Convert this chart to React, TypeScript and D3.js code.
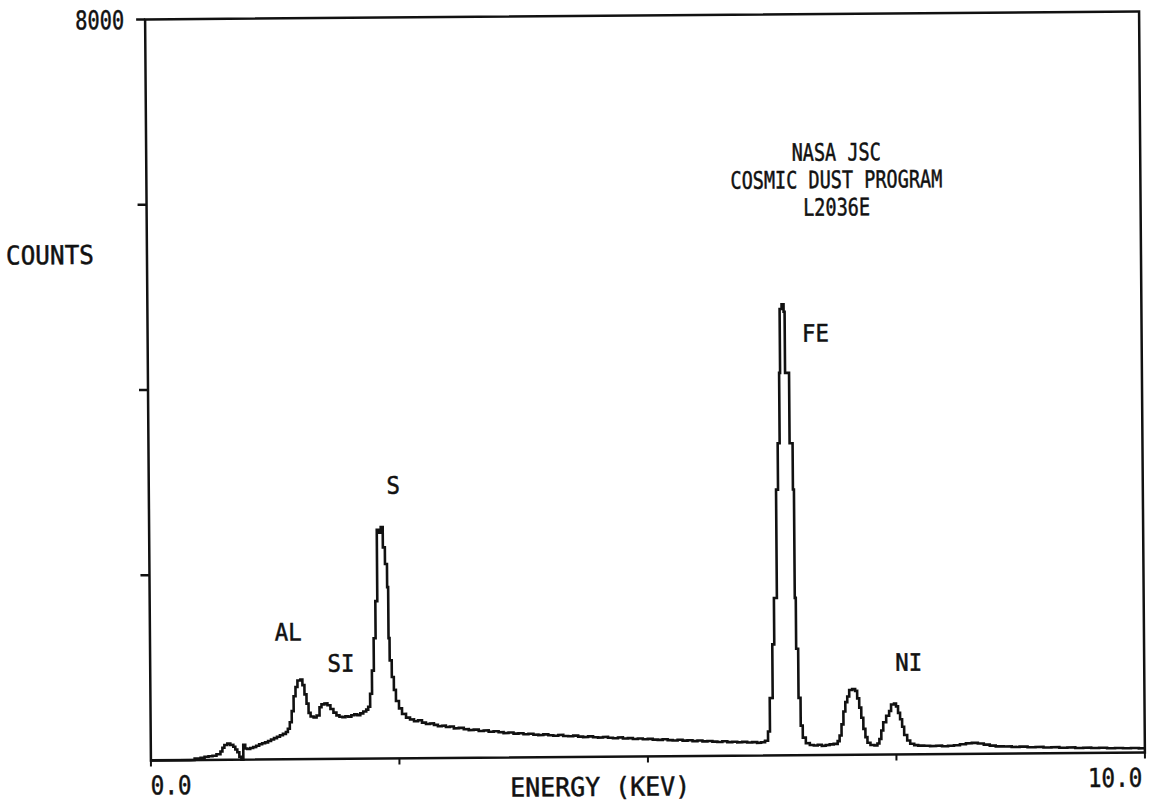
import React from "react";
import * as d3 from "d3";

// EDS spectrum: [energy keV, counts], drawn as a histogram step trace
const spectrum: [number, number][] = [
  [0, 0], [0.4, 0], [0.44, 15], [0.5, 25], [0.54, 35], [0.58, 40], [0.62, 45], [0.66, 60], [0.7, 90],
  [0.72, 130], [0.74, 160], [0.77, 175], [0.8, 160], [0.83, 140], [0.85, 110], [0.87, 80], [0.89, 30],
  [0.91, 0], [0.93, 160], [0.95, 120], [0.97, 115], [1.0, 125], [1.03, 135], [1.06, 150], [1.09, 165],
  [1.12, 175], [1.15, 185], [1.18, 200], [1.21, 215], [1.24, 230], [1.27, 245], [1.3, 260], [1.33, 275],
  [1.36, 295], [1.38, 330], [1.4, 400], [1.42, 520], [1.44, 680], [1.46, 780], [1.48, 850], [1.51, 860],
  [1.53, 800], [1.55, 700], [1.57, 600], [1.59, 500], [1.61, 460], [1.64, 450], [1.67, 470], [1.7, 560],
  [1.72, 590], [1.75, 600], [1.78, 580], [1.81, 540], [1.84, 500], [1.87, 470], [1.9, 455], [1.93, 450],
  [1.96, 460], [1.99, 455], [2.02, 470], [2.05, 480], [2.08, 470], [2.11, 490], [2.14, 510], [2.17, 530],
  [2.19, 560], [2.21, 700], [2.23, 950], [2.25, 1300], [2.27, 1700], [2.29, 2470], [2.31, 2440],
  [2.33, 2500], [2.35, 2280], [2.37, 2100], [2.39, 1850], [2.4, 1300], [2.41, 1060], [2.43, 880],
  [2.45, 740], [2.47, 620], [2.5, 540], [2.53, 480], [2.57, 440], [2.61, 420], [2.65, 400], [2.69, 410],
  [2.73, 385], [2.77, 370], [2.81, 375], [2.85, 360], [2.89, 345], [2.93, 350], [2.97, 335], [3.01, 340],
  [3.05, 320], [3.1, 325], [3.15, 310], [3.2, 300], [3.25, 305], [3.3, 290], [3.35, 295], [3.4, 280],
  [3.45, 285], [3.5, 275], [3.55, 265], [3.6, 270], [3.65, 258], [3.7, 262], [3.75, 250], [3.8, 255],
  [3.85, 245], [3.9, 240], [3.95, 248], [4.0, 238], [4.05, 232], [4.1, 240], [4.15, 228], [4.2, 225],
  [4.25, 232], [4.3, 220], [4.35, 215], [4.4, 222], [4.45, 212], [4.5, 208], [4.55, 215], [4.6, 205],
  [4.65, 200], [4.7, 208], [4.75, 196], [4.8, 200], [4.85, 190], [4.9, 195], [4.95, 186], [5.0, 190],
  [5.05, 182], [5.1, 178], [5.15, 185], [5.2, 175], [5.25, 170], [5.3, 178], [5.35, 168], [5.4, 172],
  [5.45, 162], [5.5, 168], [5.55, 158], [5.6, 162], [5.65, 155], [5.7, 150], [5.75, 158], [5.8, 148],
  [5.85, 152], [5.9, 145], [5.95, 150], [6.0, 142], [6.05, 146], [6.1, 138], [6.14, 145], [6.18, 160],
  [6.21, 260], [6.23, 620], [6.26, 1200], [6.28, 1700], [6.31, 2870], [6.33, 3370], [6.35, 4130],
  [6.36, 4820], [6.38, 4870], [6.4, 4790], [6.41, 4130], [6.45, 3370], [6.48, 2870], [6.49, 1700],
  [6.5, 1150], [6.52, 620], [6.54, 320], [6.56, 190], [6.59, 130], [6.63, 110], [6.67, 105], [6.71, 112],
  [6.75, 100], [6.79, 108], [6.83, 115], [6.87, 120], [6.91, 150], [6.93, 210], [6.95, 330], [6.97, 470],
  [6.99, 570], [7.01, 630], [7.03, 700], [7.06, 710], [7.09, 690], [7.11, 610], [7.13, 510], [7.15, 400],
  [7.17, 280], [7.19, 190], [7.21, 130], [7.24, 105], [7.28, 100], [7.31, 120], [7.33, 170], [7.35, 260],
  [7.37, 350], [7.4, 420], [7.43, 470], [7.45, 540], [7.48, 550], [7.5, 520], [7.52, 450], [7.54, 380],
  [7.56, 300], [7.58, 210], [7.61, 150], [7.64, 115], [7.68, 100], [7.72, 95], [7.78, 92], [7.84, 88],
  [7.9, 92], [7.96, 85], [8.02, 90], [8.08, 95], [8.14, 105], [8.2, 115], [8.26, 120], [8.32, 112],
  [8.38, 100], [8.44, 88], [8.5, 80], [8.58, 78], [8.66, 72], [8.74, 75], [8.82, 68], [8.9, 70],
  [8.98, 64], [9.06, 66], [9.14, 60], [9.22, 62], [9.3, 56], [9.38, 58], [9.46, 54], [9.54, 56],
  [9.62, 50], [9.7, 52], [9.78, 48], [9.86, 50], [9.94, 46], [10.0, 46],
];

const xTickValues = [0, 2.5, 5, 7.5, 10];
const yTickValues = [2000, 4000, 6000, 8000];
const xTickLabels = [
  { value: 0, text: "0.0" },
  { value: 10, text: "10.0" },
];
const yTickLabels = [{ value: 8000, text: "8000" }];

// element labels anchored at [energy keV, counts]
const peakLabels = [
  { text: "AL", energy: 1.39, counts: 1377 },
  { text: "SI", energy: 1.92, counts: 1036 },
  { text: "S", energy: 2.46, counts: 2954 },
  { text: "FE", energy: 6.72, counts: 4560 },
  { text: "NI", energy: 7.63, counts: 999 },
];

const annotationLines = ["NASA JSC", "COSMIC DUST PROGRAM", "L2036E"];
const xTitle = "ENERGY (KEV)";
const yTitle = "COUNTS";

const W = 1151;
const H = 808;
const left = 148;
const right = 1142;
const top = 15.5;
const bottom = 756.5;
const FONT = "'DejaVu Sans Mono', monospace";
const INK = "#111";

export default function App() {
  const x = d3.scaleLinear().domain([0, 10]).range([left, right]);
  const y = d3.scaleLinear().domain([0, 8000]).range([bottom, top]);
  const line = d3
    .line<[number, number]>()
    .x((d) => x(d[0]))
    .y((d) => y(d[1]))
    .curve(d3.curveStepAfter);

  const charW = 11.15; // annotation advance
  const labW = 13.5; // peak label advance
  const textStyle = { stroke: INK, strokeWidth: 0.5 };

  return (
    <svg
      width={W}
      height={H}
      style={{ position: "absolute", left: 0, top: 0, background: "#fff" }}
    >
      <rect x={0} y={0} width={W} height={H} fill="#fff" />
      <g transform={`rotate(-0.45, ${(left + right) / 2}, ${(top + bottom) / 2})`}>
        {/* frame */}
        <rect
          x={left}
          y={top}
          width={right - left}
          height={bottom - top}
          fill="none"
          stroke={INK}
          strokeWidth={2.5}
        />
        {/* y ticks (outward) */}
        {yTickValues.map((v) => (
          <line key={"yt" + v} x1={left - 9} x2={left} y1={y(v)} y2={y(v)} stroke={INK} strokeWidth={2.5} />
        ))}
        {/* x ticks (outward) */}
        {xTickValues.map((v) => (
          <line key={"xt" + v} x1={x(v)} x2={x(v)} y1={bottom} y2={bottom + 6} stroke={INK} strokeWidth={2} />
        ))}
        {/* spectrum */}
        <path d={line(spectrum) || ""} fill="none" stroke={INK} strokeWidth={2.6} strokeLinejoin="miter" />

        {/* tick labels */}
        {yTickLabels.map((t) => (
          <text
            key={t.text}
            x={left - 21}
            y={y(t.value) + 9.5}
            textAnchor="end"
            fontFamily={FONT}
            fontSize={26}
            textLength={49}
            lengthAdjust="spacingAndGlyphs"
            fill={INK}
            style={textStyle}
          >
            {t.text}
          </text>
        ))}
        {xTickLabels.map((t, i) => (
          <text
            key={t.text}
            x={i === 0 ? x(t.value) + 20 : x(t.value) - 30}
            y={bottom + 34}
            textAnchor="middle"
            fontFamily={FONT}
            fontSize={26}
            textLength={t.text.length * 13.6}
            lengthAdjust="spacingAndGlyphs"
            fill={INK}
            style={textStyle}
          >
            {t.text}
          </text>
        ))}
        {/* axis titles */}
        <text
          x={(left + right) / 2 - 48}
          y={bottom + 39}
          textAnchor="middle"
          fontFamily={FONT}
          fontSize={26}
          textLength={180}
          lengthAdjust="spacingAndGlyphs"
          fill={INK}
          style={textStyle}
        >
          {xTitle}
        </text>
        <text
          x={51}
          y={259.5}
          textAnchor="middle"
          fontFamily={FONT}
          fontSize={26}
          textLength={88}
          lengthAdjust="spacingAndGlyphs"
          fill={INK}
          style={textStyle}
        >
          {yTitle}
        </text>
        {/* annotation block */}
        {annotationLines.map((s, i) => (
          <text
            key={s}
            x={838}
            y={162 + i * 27.5}
            textAnchor="middle"
            fontFamily={FONT}
            fontSize={24}
            textLength={s.length * charW}
            lengthAdjust="spacingAndGlyphs"
            fill={INK}
            style={textStyle}
          >
            {s}
          </text>
        ))}
        {/* element labels */}
        {peakLabels.map((p) => (
          <text
            key={p.text}
            x={x(p.energy)}
            y={y(p.counts) + 8.75}
            textAnchor="middle"
            fontFamily={FONT}
            fontSize={24}
            textLength={p.text.length * labW}
            lengthAdjust="spacingAndGlyphs"
            fill={INK}
            style={textStyle}
          >
            {p.text}
          </text>
        ))}
      </g>
    </svg>
  );
}
